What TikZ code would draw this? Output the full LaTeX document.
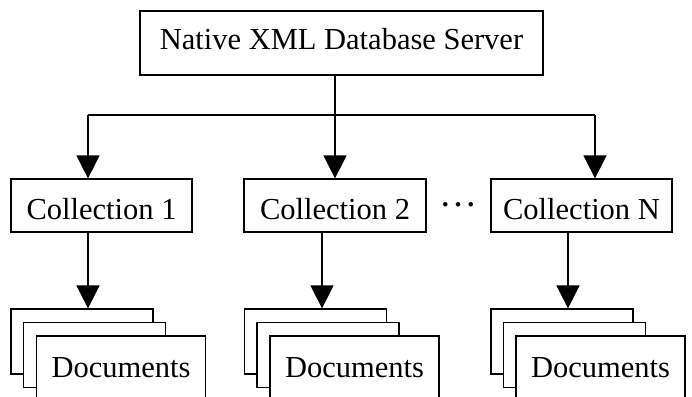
\documentclass[tikz,border=0pt]{standalone}
\usepackage{fontspec}
\setmainfont{Liberation Serif}
\usetikzlibrary{arrows.meta}

\begin{document}
\begin{tikzpicture}[x=1pt, y=-1pt, line width=1.2pt,
        box/.style={draw, fill=white, inner sep=0pt, font=\fontsize{30.5}{36}\selectfont},
        coll/.style={box, minimum width=181pt, minimum height=53pt, text height=27pt, text depth=0pt},
        page/.style={box, minimum width=142pt, minimum height=65pt},
        front/.style={box, minimum width=169pt, minimum height=65pt, text height=17pt, text depth=0pt},
        arr/.style={-{Triangle[length=23pt,width=23pt]}}]

        \useasboundingbox (0,0) rectangle (692,396);
        \clip (0,0) rectangle (692,396);

        \node[box, minimum width=403pt, minimum height=64pt, text height=12pt, text depth=0pt] (server) at (341.5,43) {Native XML Database Server};
        \node[coll] (coll1) at (101.5,205.5) {Collection 1};
        \node[coll, minimum width=182pt] (coll2) at (335,205.5) {Collection 2};
        \node[coll] (collN) at (581.5,205.5) {Collection N};
        \node[anchor=base, inner sep=0pt, font=\fontsize{38}{40}\selectfont] (dots) at (458,206) {…};

        % document stacks
        \node[page] (docs1a) at (82,341.5) {};
        \node[page] (docs1b) at (94.5,355) {};
        \node[front] (docs1) at (121,368.5) {Documents};
        \node[page] (docs2a) at (315.5,341.5) {};
        \node[page] (docs2b) at (328,355) {};
        \node[front] (docs2) at (354.5,368.5) {Documents};
        \node[page] (docsNa) at (562,341.5) {};
        \node[page] (docsNb) at (574.5,355) {};
        \node[front] (docsN) at (600.5,368.5) {Documents};

        % branch points
        \coordinate (j1) at (88,115);
        \coordinate (j2) at (335,115);
        \coordinate (jN) at (595,115);
        \coordinate (l1) at (88,0);
        \coordinate (l2) at (322,0);
        \coordinate (lN) at (568,0);

        \draw (server.south -| j2) -- (j2);
        \draw (j1) -- (jN);
        \draw[arr] (j1) -- (j1 |- coll1.north);
        \draw[arr] (j2) -- (j2 |- coll2.north);
        \draw[arr] (jN) -- (jN |- collN.north);
        \draw[arr] (l1 |- coll1.south) -- (l1 |- docs1a.north);
        \draw[arr] (l2 |- coll2.south) -- (l2 |- docs2a.north);
        \draw[arr] (lN |- collN.south) -- (lN |- docsNa.north);
\end{tikzpicture}
\end{document}
